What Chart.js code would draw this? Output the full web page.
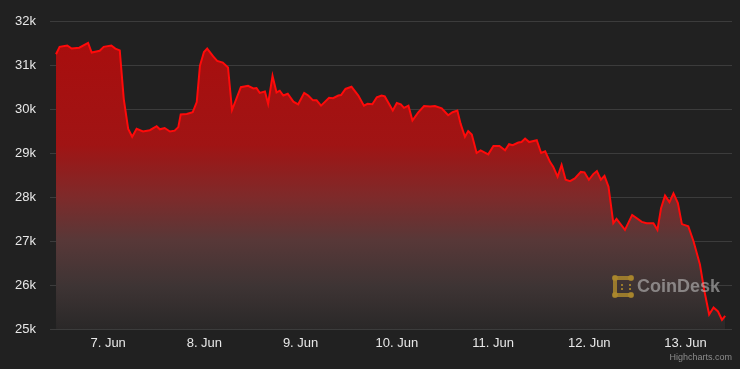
<!DOCTYPE html>
<html>
<head>
<meta charset="utf-8">
<title>BTC price</title>
<script src="https://cdn.jsdelivr.net/npm/chart.js@4.4.0/dist/chart.umd.min.js"></script>
<style>
    html, body { margin: 0; padding: 0; background: #212121; }
    #wrap { width: 740px; height: 369px; }
</style>
</head>
<body>
<div id="wrap"><canvas id="priceChart" width="740" height="369"></canvas></div>
<script>
// Hours since 7 Jun 00:00
const hours = [
    -13.0, -12.1, -10.2, -9.1, -7.2, -5.0, -4.1, -2.1, -1.1, 0.8,
    1.8, 2.9, 3.9, 5.0, 6.0, 7.1, 8.7, 10.4, 12.1, 12.9,
    14.1, 15.4, 16.6, 17.5, 18.1, 19.6, 21.1, 22.1, 22.9, 23.9,
    24.7, 26.2, 27.2, 28.6, 29.9, 30.9, 33.1, 34.9, 36.2, 37.0,
    37.8, 39.1, 39.9, 41.0, 42.0, 42.8, 43.7, 44.8, 46.2, 47.4,
    48.9, 49.9, 51.1, 52.0, 53.1, 55.1, 56.1, 57.4, 58.1, 59.2,
    60.7, 62.4, 63.8, 64.7, 65.9, 67.0, 68.2, 69.0, 71.0, 72.0,
    73.0, 73.8, 74.9, 75.9, 77.3, 78.8, 80.3, 81.5, 83.2, 84.8,
    85.9, 87.1, 87.9, 89.0, 89.8, 90.7, 91.9, 92.9, 94.8, 96.1,
    97.6, 99.0, 100.0, 100.9, 102.3, 103.1, 104.0, 105.0, 106.9, 108.0,
    109.0, 110.2, 111.0, 112.1, 113.1, 114.1, 115.2, 116.4, 117.9, 118.8,
    119.9, 121.0, 121.9, 122.9, 123.8, 124.8, 126.0, 126.8, 128.9, 130.7,
    133.1, 134.3, 136.0, 137.0, 137.9, 138.9, 140.0, 141.0, 142.1, 143.1,
    144.7, 146.0, 147.6, 148.7, 149.9, 151.0, 152.1, 153.1, 153.9
];

// BTC price in USD
const prices = [
    31260, 31430, 31460, 31390, 31410, 31520, 31300, 31340, 31430, 31460,
    31390, 31350, 30240, 29560, 29380, 29560, 29500, 29530, 29620, 29550,
    29580, 29500, 29520, 29600, 29890, 29900, 29940, 30170, 31000, 31310,
    31390, 31210, 31110, 31070, 30960, 29990, 30510, 30540, 30480, 30490,
    30380, 30410, 30130, 30770, 30390, 30430, 30320, 30360, 30180, 30120,
    30380, 30320, 30210, 30210, 30090, 30270, 30260, 30320, 30330, 30470,
    30520, 30320, 30090, 30130, 30120, 30280, 30320, 30300, 29980, 30150,
    30120, 30040, 30090, 29750, 29930, 30080, 30070, 30080, 30030, 29870,
    29940, 29980, 29680, 29380, 29510, 29430, 29010, 29070, 28980, 29170,
    29170, 29070, 29210, 29190, 29250, 29260, 29340, 29260, 29300, 29010,
    29050, 28810, 28700, 28470, 28740, 28400, 28370, 28430, 28580, 28570,
    28400, 28530, 28600, 28400, 28490, 28240, 27410, 27510, 27260, 27600,
    27440, 27410, 27410, 27260, 27750, 28040, 27890, 28090, 27870, 27390,
    27340, 27000, 26470, 25870, 25330, 25490, 25400, 25210, 25300
];

const tickHours = [0, 24, 48, 72, 96, 120, 144];
const tickLabels = ['7. Jun', '8. Jun', '9. Jun', '10. Jun', '11. Jun', '12. Jun', '13. Jun'];

const xMin = -14.5;
const xMax = 155.6;
const yMin = 25000;
const yMax = 32000;

const FONT = '"Liberation Sans", Arial, sans-serif';

// Relleno degradado rojo -> gris
function areaGradient(context) {
    const area = context.chart.chartArea;
    if (!area) return 'rgba(170,14,14,0.9)';
    const g = context.chart.ctx.createLinearGradient(0, area.top, 0, area.bottom);
    g.addColorStop(0, 'rgb(170,13,13)');
    g.addColorStop(0.4, 'rgb(160,20,20)');
    g.addColorStop(0.57, 'rgb(126,42,42)');
    g.addColorStop(0.71, 'rgb(88,56,56)');
    g.addColorStop(0.86, 'rgb(62,52,52)');
    g.addColorStop(1, 'rgb(42,40,40)');
    return g;
}

// CoinDesk watermark
const watermark = {
    id: 'watermark',
    afterDatasetsDraw(chart) {
        const ctx = chart.ctx;
        const x = 613, y = 276;
        ctx.save();
        ctx.fillStyle = 'rgba(170,135,45,0.85)';
        // logo
        ctx.fillRect(x, y, 20, 4);
        ctx.fillRect(x, y + 17, 20, 4);
        ctx.fillRect(x, y, 4, 21);
        [[x + 2, y + 2], [x + 18, y + 2], [x + 2, y + 19], [x + 18, y + 19]].forEach(p => {
            ctx.beginPath();
            ctx.arc(p[0], p[1], 3, 0, Math.PI * 2);
            ctx.fill();
        });
        ctx.fillRect(x + 16, y + 8, 2, 2);
        ctx.fillRect(x + 16, y + 12, 2, 2);
        ctx.fillRect(x + 8, y + 8, 2, 2);
        ctx.fillRect(x + 8, y + 12, 2, 2);
        // text
        ctx.font = 'bold 18px ' + FONT;
        ctx.fillStyle = 'rgba(200,200,200,0.55)';
        ctx.textBaseline = 'middle';
        ctx.textAlign = 'left';
        ctx.fillText('CoinDesk', 637, y + 11);
        ctx.restore();
    },
    afterDraw(chart) {
        const ctx = chart.ctx;
        ctx.save();
        ctx.font = '9px ' + FONT;
        ctx.fillStyle = '#8c8c8c';
        ctx.textAlign = 'right';
        ctx.textBaseline = 'alphabetic';
        ctx.fillText('Highcharts.com', 732, 360);
        ctx.restore();
    }
};

const chart = new Chart(document.getElementById('priceChart'), {
    type: 'line',
    data: {
        datasets: [{
            data: hours.map((h, i) => ({ x: h, y: prices[i] })),
            borderColor: '#ff0a0a',
            borderWidth: 2,
            backgroundColor: areaGradient,
            fill: 'start',
            pointRadius: 0,
            tension: 0
        }]
    },
    options: {
        responsive: false,
        animation: false,
        layout: { padding: { top: 19, right: 8, left: 0, bottom: 0 } },
        plugins: {
            legend: { display: false },
            tooltip: { enabled: false }
        },
        scales: {
            x: {
                type: 'linear',
                min: xMin,
                max: xMax,
                grid: { display: false, drawTicks: false },
                border: { display: false },
                afterBuildTicks: scale => {
                    scale.ticks = tickHours.map(v => ({ value: v }));
                },
                afterFit: scale => { scale.height = 40; },
                ticks: {
                    autoSkip: false,
                    maxRotation: 0,
                    padding: 7,
                    color: '#e8e8e8',
                    font: { family: FONT, size: 13 },
                    callback: (v, i) => tickLabels[i]
                }
            },
            y: {
                min: yMin,
                max: yMax,
                z: 1,
                grid: { color: 'rgba(255,255,255,0.12)', lineWidth: 1, drawTicks: false },
                border: { display: false },
                afterFit: scale => { scale.width = 50; },
                ticks: {
                    stepSize: 1000,
                    padding: 14,
                    color: '#e8e8e8',
                    font: { family: FONT, size: 13 },
                    callback: v => (v / 1000) + 'k'
                }
            }
        }
    },
    plugins: [watermark]
});
</script>
</body>
</html>
